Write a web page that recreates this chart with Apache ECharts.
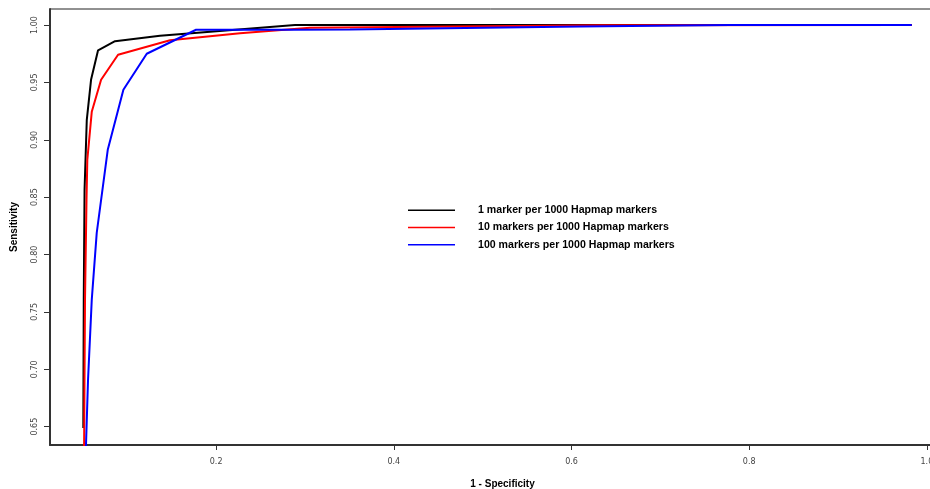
<!DOCTYPE html>
<html>
<head>
<meta charset="utf-8">
<script src="https://cdn.jsdelivr.net/npm/echarts@6/dist/echarts.min.js"></script>
<style>
html, body { margin: 0; padding: 0; background: #fff; }
#chart { width: 930px; height: 489px; }
</style>
</head>
<body>
<div id="chart"></div>
<script>
// series names
var seriesNames = [
    '1 marker per 1000 Hapmap markers',
    '10 markers per 1000 Hapmap markers',
    '100 markers per 1000 Hapmap markers'
];

// [1 - specificity, sensitivity]
var blackData = [
    [0.0505, 0.6488], [0.0510, 0.7605], [0.0519, 0.8564], [0.0544, 0.9174],
    [0.0592, 0.9523], [0.0671, 0.9780], [0.0862, 0.9859], [0.1368, 0.9907],
    [0.2888, 1.0000], [0.9830, 1.0000]
];
var redData = [
    [0.0513, 0.6210], [0.0524, 0.7605], [0.0541, 0.8477], [0.0550, 0.8825],
    [0.0600, 0.9244], [0.0705, 0.9523], [0.0896, 0.9741], [0.1481, 0.9867],
    [0.2269, 0.9928], [0.3057, 0.9976], [0.6321, 0.9998], [0.9830, 1.0000]
];
var blueData = [
    [0.0530, 0.6210], [0.0558, 0.6907], [0.0600, 0.7605], [0.0656, 0.8189],
    [0.0780, 0.8913], [0.0956, 0.9436], [0.1219, 0.9750], [0.1774, 0.9959],
    [0.2832, 0.9959], [0.3506, 0.9962], [0.6100, 0.9988], [0.7784, 1.0000],
    [0.9830, 1.0000]
];

var xTicks = [0.2, 0.4, 0.6, 0.8, 1.0];
var yTicks = [0.65, 0.70, 0.75, 0.80, 0.85, 0.90, 0.95, 1.00];

var chart = echarts.init(document.getElementById('chart'));

function lineSeries(name, data, color) {
    return {
        name: name,
        type: 'line',
        data: data,
        symbol: 'none',
        clip: true,
        animation: false,
        lineStyle: { color: color, width: 2 },
        itemStyle: { color: color }
    };
}

var option = {
    backgroundColor: '#fff',
    animation: false,
    // plot box runs past the right edge of the picture
    grid: {
        left: 50, top: 9, right: -15, bottom: 44,
        outerBoundsMode: 'none',
        containLabel: false,
        show: true, borderColor: '#222', borderWidth: 1,
        backgroundColor: 'transparent'
    },
    legend: {
        orient: 'vertical',
        left: 408,
        top: 204,
        padding: 0,
        icon: 'rect',
        itemWidth: 47,
        itemHeight: 1.5,
        itemGap: 5,
        data: seriesNames,
        textStyle: {
            fontFamily: 'Liberation Sans',
            fontWeight: 'bold',
            fontSize: 10.6,
            lineHeight: 12.3,
            color: '#000',
            padding: [0, 0, 0, 18]
        }
    },
    xAxis: {
        type: 'value',
        min: 0.013,
        max: 1.0204,
        name: '1 - Specificity',
        nameLocation: 'middle',
        nameGap: 34,
        nameTextStyle: {
            fontFamily: 'Liberation Sans', fontWeight: 'bold', fontSize: 10,
            color: '#000', padding: [0, 0, 0, 10]
        },
        splitLine: { show: false },
        axisLine: { lineStyle: { color: '#333', width: 2 } },
        axisTick: { length: 5, customValues: xTicks, lineStyle: { color: '#333', width: 1 } },
        axisLabel: {
            customValues: xTicks,
            margin: 13,
            fontFamily: 'DejaVu Sans', fontSize: 8, color: '#444',
            formatter: function(v) { return v.toFixed(1); }
        }
    },
    yAxis: {
        type: 'value',
        min: 0.634,
        max: 1.014,
        name: 'Sensitivity',
        nameLocation: 'middle',
        nameGap: 31,
        nameTextStyle: {
            fontFamily: 'Liberation Sans', fontWeight: 'bold', fontSize: 10, color: '#000'
        },
        splitLine: { show: false },
        axisLine: { lineStyle: { color: '#333', width: 2 } },
        axisTick: { length: 6, customValues: yTicks, lineStyle: { color: '#333', width: 1 } },
        axisLabel: {
            customValues: yTicks,
            rotate: 90,
            margin: 11,
            fontFamily: 'DejaVu Sans', fontSize: 8, color: '#444',
            formatter: function(v) { return v.toFixed(2); }
        }
    },
    series: [
        lineSeries(seriesNames[0], blackData, '#000000'),
        lineSeries(seriesNames[1], redData, '#ff0000'),
        lineSeries(seriesNames[2], blueData, '#0000ff')
    ]
};

chart.setOption(option);
</script>
</body>
</html>
